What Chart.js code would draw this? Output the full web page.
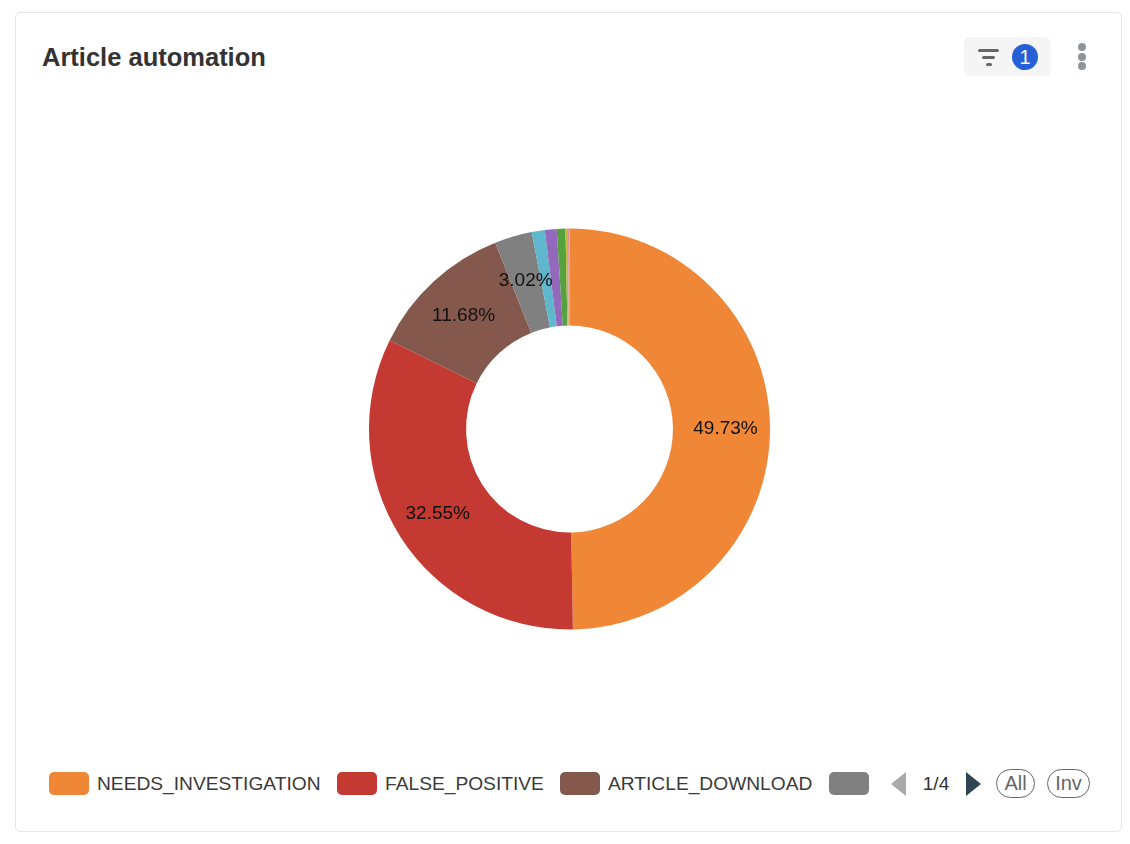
<!DOCTYPE html>
<html>
<head>
<meta charset="utf-8">
<title>Article automation</title>
<script src="https://cdn.jsdelivr.net/npm/chart.js@4/dist/chart.umd.min.js"></script>
<style>
  html, body { margin: 0; padding: 0; background: #fff; width: 1130px; height: 844px; overflow: hidden; }
  body { font-family: "Liberation Sans", Arial, sans-serif; position: relative; }
  .card { position: absolute; left: 15px; top: 12px; width: 1105px; height: 818px; border: 1px solid #e6e6e6; border-radius: 5px; }
  h1 { position: absolute; left: 42px; top: 43px; margin: 0; font-size: 25.5px; line-height: 29px; font-weight: 700; color: #333; }
  .filter { position: absolute; left: 964px; top: 37px; width: 87px; height: 39px; background: #f5f5f5; border-radius: 6px; }
  .filter i { position: absolute; height: 3px; border-radius: 2px; background: #666; }
  .badge { position: absolute; left: 48px; top: 7px; width: 26px; height: 26px; line-height: 26px; border-radius: 50%; background: #2560d6; color: #fff; text-align: center; font-size: 20px; }
  .dot { position: absolute; left: 1078px; width: 8px; height: 8px; border-radius: 50%; background: #8d9599; }
  .chart-box { position: absolute; left: 20px; top: 129px; width: 1099px; height: 600px; }
  .legend-item { position: absolute; top: 772px; height: 23px; line-height: 23px; font-size: 19.2px; color: #3a3a3a; white-space: nowrap; }
  .legend-item span { position: absolute; left: 0; top: 0; width: 40px; height: 23px; border-radius: 5px; }
  .legend-item b { position: absolute; left: 48px; top: 0; font-weight: 400; }
  .tri { position: absolute; top: 772px; width: 0; height: 0; border-top: 12px solid transparent; border-bottom: 12px solid transparent; }
  .page { position: absolute; left: 916px; top: 772px; width: 40px; text-align: center; line-height: 23px; font-size: 19px; color: #333; }
  .pill { position: absolute; top: 769px; height: 27px; line-height: 27px; border: 1.5px solid #666; border-radius: 15px; text-align: center; font-size: 20px; color: #666; box-sizing: content-box; }
</style>
</head>
<body>
<div class="card"></div>
<h1>Article automation</h1>

<div class="filter">
  <i style="left:14px;top:12px;width:21px"></i>
  <i style="left:18px;top:19px;width:13px"></i>
  <i style="left:22px;top:26px;width:6px"></i>
  <div class="badge">1</div>
</div>
<div class="dot" style="top:43px"></div>
<div class="dot" style="top:52.5px"></div>
<div class="dot" style="top:62px"></div>

<div class="chart-box"><canvas id="articleChart"></canvas></div>

<div id="legend"></div>
<div class="tri" style="left:891px;border-right:15px solid #aaa"></div>
<div class="page">1/4</div>
<div class="tri" style="left:966px;border-left:15px solid #2f4554"></div>
<div class="pill" style="left:996px;width:37px">All</div>
<div class="pill" style="left:1047px;width:41px">Inv</div>

<script>
// only the first three names can be read in the picture
const categories = ['NEEDS_INVESTIGATION', 'FALSE_POSITIVE', 'ARTICLE_DOWNLOAD', '', '', '', '', '', ''];
const shares = [49.73, 32.55, 11.68, 3.02, 1.05, 0.95, 0.70, 0.20, 0.12];
const colors = ['#f08737', '#c43a32', '#85584e', '#808080', '#5fb7cd', '#9269bb', '#55a13e', '#c9b93a', '#d98aa5'];

const legendLefts = [49, 337, 560, 829];

function renderLegend() {
  const legend = document.getElementById('legend');
  legend.innerHTML = legendLefts.map((left, i) => `
    <div class="legend-item" style="left:${left}px">
      <span style="background:${colors[i]}"></span><b>${categories[i]}</b>
    </div>
  `).join('');
}

// labels inside the slices, small slices get none
const sliceLabels = {
  id: 'sliceLabels',
  afterDatasetsDraw(chart) {
    const ctx = chart.ctx;
    const arcs = chart.getDatasetMeta(0).data;
    ctx.save();
    ctx.font = '19px "Liberation Sans", Arial, sans-serif';
    ctx.fillStyle = '#111';
    ctx.textAlign = 'center';
    ctx.textBaseline = 'middle';
    arcs.forEach((arc, i) => {
      if (shares[i] < 3) return;
      const mid = (arc.startAngle + arc.endAngle) / 2;
      const r = 156;
      ctx.fillText(shares[i].toFixed(2) + '%', arc.x + Math.cos(mid) * r, arc.y + Math.sin(mid) * r + 1);
    });
    ctx.restore();
  }
};

document.addEventListener('DOMContentLoaded', () => {
  renderLegend();
  new Chart(document.getElementById('articleChart'), {
    type: 'doughnut',
    data: {
      labels: categories,
      datasets: [{
        data: shares,
        backgroundColor: colors,
        borderWidth: 0,
        radius: 200.5,
        cutout: '51.6%',
      }],
    },
    options: {
      responsive: true,
      maintainAspectRatio: false,
      animation: false,
      plugins: {
        legend: { display: false },
        tooltip: { enabled: false },
      },
    },
    plugins: [sliceLabels],
  });
});
</script>
</body>
</html>
